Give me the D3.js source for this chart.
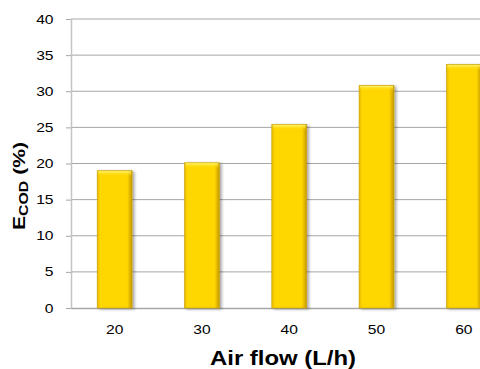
<!DOCTYPE html>
<html>
<head>
<meta charset="utf-8">
<script src="https://cdn.jsdelivr.net/npm/d3@7"></script>
<style>
  body { margin: 0; background: #fff; }
  svg { display: block; font-family: Arial, "Liberation Sans", sans-serif; }
</style>
</head>
<body>
<script>
var airFlow = ["20", "30", "40", "50", "60"];
var ecod = [19.0, 20.1, 25.4, 30.8, 33.7];
var yTicks = [0, 5, 10, 15, 20, 25, 30, 35, 40];

var chart = {
  width: 480,
  height: 369,
  left: 71,
  top: 19,
  bottom: 308,
  step: 87.3,
  canvas: null,
  xScale: null,
  yScale: null,
  setup: function(container) {
    this.canvas = container.append("svg")
      .attr("width", this.width)
      .attr("height", this.height);

    // Category axis, last band runs past the window edge like the original
    this.xScale = d3.scaleBand()
      .domain(airFlow)
      .range([this.left, this.left + this.step * airFlow.length])
      .paddingInner(0.6)
      .paddingOuter(0.3);

    this.yScale = d3.scaleLinear()
      .domain([0, 40])
      .range([this.bottom, this.top]);

    var defs = this.canvas.append("defs");
    var side = defs.append("linearGradient").attr("id", "barSide")
      .attr("x1", "0%").attr("x2", "100%").attr("y1", "0%").attr("y2", "0%");
    side.append("stop").attr("offset", "0%").attr("stop-color", "#e6b800");
    side.append("stop").attr("offset", "9%").attr("stop-color", "#ffd700");
    side.append("stop").attr("offset", "86%").attr("stop-color", "#ffd600");
    side.append("stop").attr("offset", "100%").attr("stop-color", "#c49a00");

    var top = defs.append("linearGradient").attr("id", "barTop")
      .attr("x1", "0%").attr("x2", "0%").attr("y1", "0%").attr("y2", "100%");
    top.append("stop").attr("offset", "0%").attr("stop-color", "#fff36a");
    top.append("stop").attr("offset", "100%").attr("stop-color", "#ffd700").attr("stop-opacity", 0);

    var shadow = defs.append("filter").attr("id", "shadow")
      .attr("x", "-20%").attr("y", "-10%").attr("width", "150%").attr("height", "130%");
    shadow.append("feDropShadow")
      .attr("dx", 2).attr("dy", 1).attr("stdDeviation", 1.4)
      .attr("flood-color", "#000").attr("flood-opacity", 0.35);
  },
  render: function() {
    var self = this;

    // grid lines
    this.canvas.append("g")
      .selectAll("line")
      .data(yTicks.slice(1))
      .enter()
      .append("line")
      .attr("x1", this.left)
      .attr("x2", this.width)
      .attr("y1", function(d) { return self.yScale(d); })
      .attr("y2", function(d) { return self.yScale(d); })
      .attr("stroke", "#a6a6a6")
      .attr("stroke-width", 1);

    var yAxis = d3.axisLeft(this.yScale)
      .tickValues(yTicks)
      .tickSize(5)
      .tickPadding(9)
      .tickSizeOuter(0);
    var yGroup = this.canvas.append("g")
      .attr("transform", "translate(" + this.left + ",0)")
      .call(yAxis);
    yGroup.select(".domain").attr("stroke", "#c4c4c4").attr("stroke-width", 1.5);
    yGroup.selectAll(".tick line").attr("stroke", "#a6a6a6");
    yGroup.selectAll(".tick text")
      .attr("font-size", 12.5)
      .attr("fill", "#000")
      .attr("transform", "scale(1.25,1)");

    var xAxis = d3.axisBottom(this.xScale)
      .tickSize(0)
      .tickPadding(17)
      .tickSizeOuter(0);
    var xGroup = this.canvas.append("g")
      .attr("transform", "translate(0," + this.bottom + ")")
      .call(xAxis);
    xGroup.select(".domain").attr("stroke", "#a6a6a6").attr("stroke-width", 1.5);
    xGroup.selectAll(".tick text")
      .attr("font-size", 12.5)
      .attr("fill", "#000")
      .attr("transform", "scale(1.25,1)");

    // bars
    var bars = this.canvas.append("g")
      .selectAll("g.bar")
      .data(ecod)
      .enter()
      .append("g")
      .attr("class", "bar");

    bars.append("rect")
      .attr("x", function(d, i) { return self.xScale(airFlow[i]); })
      .attr("y", function(d) { return self.yScale(d); })
      .attr("width", this.xScale.bandwidth())
      .attr("height", function(d) { return self.bottom - self.yScale(d); })
      .attr("fill", "url(#barSide)")
      .attr("stroke", "#c9a000")
      .attr("stroke-width", 0.6)
      .attr("filter", "url(#shadow)");

    bars.append("rect")
      .attr("x", function(d, i) { return self.xScale(airFlow[i]) + 1; })
      .attr("y", function(d) { return self.yScale(d) + 0.5; })
      .attr("width", this.xScale.bandwidth() - 2)
      .attr("height", 5)
      .attr("fill", "url(#barTop)");

    // axis titles
    this.canvas.append("text")
      .attr("x", 210)
      .attr("y", 365)
      .attr("font-size", 19.5)
      .attr("font-weight", "bold")
      .attr("textLength", 146)
      .attr("lengthAdjust", "spacingAndGlyphs")
      .text("Air flow (L/h)");

    var yTitle = this.canvas.append("text")
      .attr("transform", "translate(24.5,230) rotate(-90)")
      .attr("font-size", 16)
      .attr("font-weight", "bold")
      .attr("textLength", 88)
      .attr("lengthAdjust", "spacingAndGlyphs");
    yTitle.append("tspan").text("E");
    yTitle.append("tspan").attr("font-size", 12).attr("dy", 3).text("COD");
    yTitle.append("tspan").attr("dy", -3).text(" (%)");
  }
};

chart.setup(d3.select("body"));
chart.render();
</script>
</body>
</html>
